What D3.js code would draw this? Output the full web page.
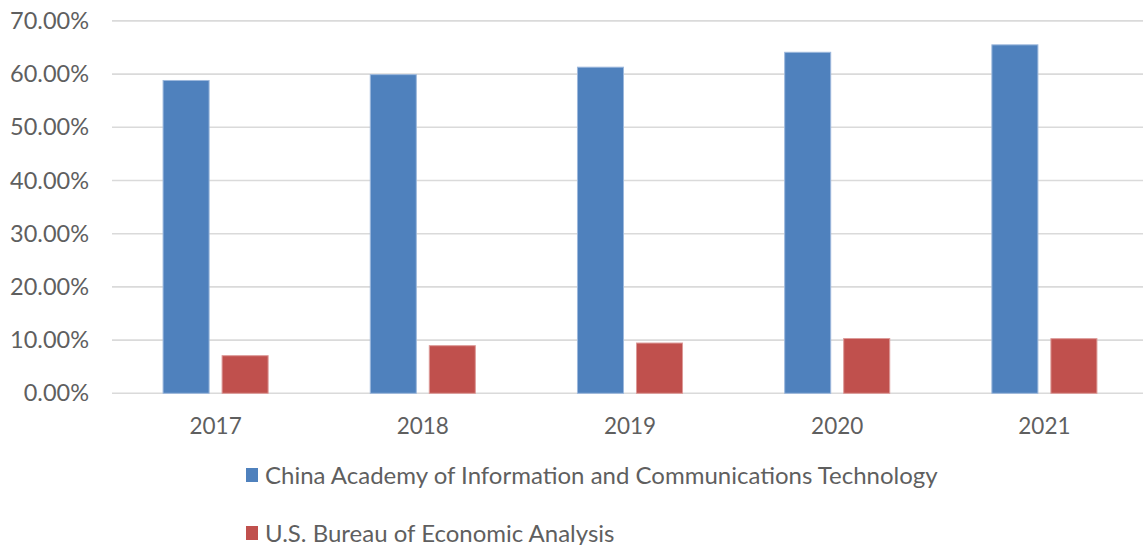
<!DOCTYPE html>
<html>
<head>
<meta charset="utf-8">
<script src="https://cdn.jsdelivr.net/npm/d3@7/dist/d3.min.js"></script>
<style>
  html, body { margin: 0; padding: 0; background: #fff; }
  svg { display: block; }
  text { font-family: Lato, "Open Sans", sans-serif; fill: #5f5f5f; }
</style>
</head>
<body>
<svg id="chart" width="1143" height="545"></svg>
<script>
// Share of the digital economy in GDP, two estimates per year
const years = ["2017", "2018", "2019", "2020", "2021"];
const seriesNames = [
  "China Academy of Information and Communications Technology",
  "U.S. Bureau of Economic Analysis"
];
const caictValues = [0.588, 0.599, 0.613, 0.641, 0.655];
const beaValues = [0.0707, 0.0895, 0.0945, 0.103, 0.1027];
const yTicks = [0, 0.1, 0.2, 0.3, 0.4, 0.5, 0.6, 0.7];
const colors = ["#4F81BD", "#C0504D"];
const strokeColors = ["#9db8dc", "#dc9a98"];

const svg = d3.select("#chart");
const W = 1143, H = 545;

const plot = { left: 112, right: 1148, top: 20.9, bottom: 393.3 };

const x0 = d3.scaleBand()
  .domain(years)
  .range([plot.left, plot.right])
  .paddingInner(0.493)
  .paddingOuter(0.2465);

const x1 = d3.scaleBand()
  .domain(seriesNames)
  .range([0, x0.bandwidth()])
  .paddingInner(0.22);

const y = d3.scaleLinear()
  .domain([0, 0.7])
  .range([plot.bottom, plot.top]);

// horizontal gridlines
svg.append("g")
  .selectAll("line")
  .data(yTicks)
  .join("line")
  .attr("x1", plot.left)
  .attr("x2", W)
  .attr("y1", d => y(d))
  .attr("y2", d => y(d))
  .attr("stroke", "#dadada")
  .attr("stroke-width", 1.6);

// y axis labels
const yAxis = d3.axisLeft(y)
  .tickValues(yTicks)
  .tickFormat(d3.format(".2%"))
  .tickSize(0)
  .tickPadding(0);

const gy = svg.append("g")
  .attr("transform", `translate(89,0)`)
  .call(yAxis);
gy.select(".domain").remove();
gy.selectAll("text")
  .attr("font-size", 23.5)
  .attr("font-family", null)
  .attr("fill", null);

// x axis labels
const xAxis = d3.axisBottom(x0).tickSize(0).tickPadding(0);
const gx = svg.append("g")
  .attr("transform", `translate(0,${plot.bottom + 25})`)
  .call(xAxis);
gx.select(".domain").remove();
gx.selectAll("text")
  .attr("font-size", 22.5)
  .attr("font-family", null)
  .attr("fill", null);

// bars
const rows = years.map((yr, i) => ({
  year: yr,
  values: [caictValues[i], beaValues[i]]
}));

const groups = svg.append("g")
  .selectAll("g")
  .data(rows)
  .join("g")
  .attr("transform", d => `translate(${x0(d.year)},0)`);

groups.selectAll("rect")
  .data(d => d.values.map((v, k) => ({ series: seriesNames[k], k, v })))
  .join("rect")
  .attr("x", d => x1(d.series))
  .attr("width", x1.bandwidth())
  .attr("y", d => y(d.v))
  .attr("height", d => y(0) - y(d.v))
  .attr("fill", d => colors[d.k])
  .attr("stroke", d => strokeColors[d.k])
  .attr("stroke-width", 1);

// legend
const legendRows = [
  { name: seriesNames[0], color: colors[0], y: 475 },
  { name: seriesNames[1], color: colors[1], y: 533 }
];
const legend = svg.append("g")
  .selectAll("g")
  .data(legendRows)
  .join("g")
  .attr("transform", d => `translate(246,${d.y})`);

legend.append("rect")
  .attr("x", 0)
  .attr("y", -7)
  .attr("width", 12)
  .attr("height", 14)
  .attr("fill", d => d.color);

legend.append("text")
  .attr("x", 19)
  .attr("y", 8.5)
  .attr("font-size", 24)
  .text(d => d.name);
</script>
</body>
</html>
